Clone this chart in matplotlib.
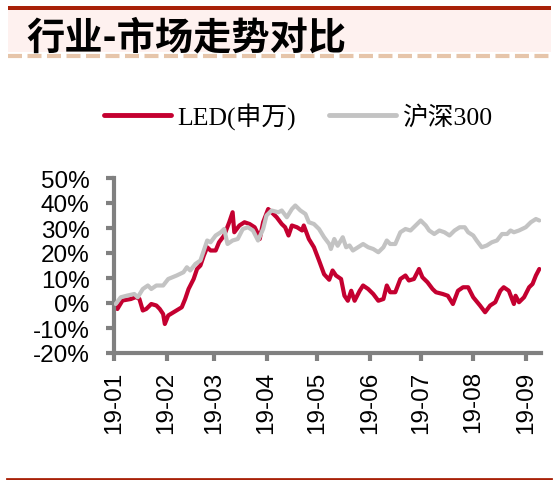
import matplotlib
matplotlib.use("Agg")
import matplotlib.pyplot as plt
import matplotlib.dates as mdates
from matplotlib.lines import Line2D
from matplotlib.patches import Rectangle
import pandas as pd

# ---------------- data ----------------
led_dates = ["2019-01-02", "2019-01-03", "2019-01-06", "2019-01-11", "2019-01-14", "2019-01-16",
             "2019-01-18", "2019-01-20", "2019-01-23", "2019-01-26", "2019-01-28", "2019-01-30",
             "2019-01-31", "2019-02-02", "2019-02-10", "2019-02-12", "2019-02-14", "2019-02-17",
             "2019-02-19", "2019-02-21", "2019-02-23", "2019-02-25", "2019-02-27", "2019-03-02",
             "2019-03-04", "2019-03-07", "2019-03-10", "2019-03-12", "2019-03-13", "2019-03-16",
             "2019-03-19", "2019-03-22", "2019-03-25", "2019-03-27", "2019-03-28", "2019-03-30",
             "2019-04-02", "2019-04-04", "2019-04-07", "2019-04-10", "2019-04-12", "2019-04-14",
             "2019-04-16", "2019-04-19", "2019-04-22", "2019-04-23", "2019-04-26", "2019-04-29",
             "2019-05-02", "2019-05-05", "2019-05-08", "2019-05-10", "2019-05-12", "2019-05-15",
             "2019-05-17", "2019-05-19", "2019-05-21", "2019-05-23", "2019-05-26", "2019-05-28",
             "2019-05-31", "2019-06-03", "2019-06-06", "2019-06-09", "2019-06-11", "2019-06-13",
             "2019-06-16", "2019-06-19", "2019-06-22", "2019-06-24", "2019-06-27", "2019-06-30",
             "2019-07-02", "2019-07-05", "2019-07-08", "2019-07-10", "2019-07-14", "2019-07-17",
             "2019-07-20", "2019-07-23", "2019-07-26", "2019-07-29", "2019-08-01", "2019-08-05",
             "2019-08-08", "2019-08-11", "2019-08-14", "2019-08-17", "2019-08-19", "2019-08-22",
             "2019-08-25", "2019-08-26", "2019-08-28", "2019-08-31", "2019-09-03", "2019-09-05",
             "2019-09-07", "2019-09-09"]
led_values = [-1.0, -2.4, 1.0, 1.6, 2.4, 1.6,
              -3.0, -2.4, -0.4, -1.0, -2.4, -4.4,
              -8.4, -5.0, -1.7, 1.6, 5.6, 9.6,
              13.6, 15.0, 19.0, 22.3, 21.0, 21.0,
              24.3, 27.0, 32.3, 36.3, 28.3, 31.0,
              32.3, 31.6, 30.3, 27.6, 25.6, 32.3,
              37.6, 36.3, 34.3, 31.6, 30.3, 27.0,
              31.0, 30.3, 29.0, 31.0, 25.6, 22.3,
              17.0, 11.5, 9.3, 13.0, 11.0, 9.6,
              2.9, 0.9, 4.9, 0.9, 4.9, 7.0,
              5.6, 3.6, 0.9, 1.6, 7.0, 4.3,
              4.3, 9.6, 11.0, 9.0, 9.6, 13.6,
              10.3, 8.3, 5.6, 4.3, 3.6, 2.9,
              -0.4, 4.9, 6.3, 6.3, 2.3, -1.0,
              -3.7, -1.0, 0.3, 4.9, 6.3, 4.9,
              -0.4, 2.9, 0.3, 2.3, 6.3, 7.6,
              11.0, 13.6]

hs300_dates = ["2019-01-02", "2019-01-05", "2019-01-09", "2019-01-13", "2019-01-15", "2019-01-18",
               "2019-01-21", "2019-01-23", "2019-01-26", "2019-01-30", "2019-02-02", "2019-02-07",
               "2019-02-11", "2019-02-13", "2019-02-15", "2019-02-18", "2019-02-21", "2019-02-25",
               "2019-02-27", "2019-03-02", "2019-03-05", "2019-03-07", "2019-03-09", "2019-03-12",
               "2019-03-15", "2019-03-18", "2019-03-21", "2019-03-24", "2019-03-27", "2019-03-30",
               "2019-04-01", "2019-04-04", "2019-04-08", "2019-04-10", "2019-04-13", "2019-04-16",
               "2019-04-18", "2019-04-21", "2019-04-24", "2019-04-26", "2019-04-29", "2019-05-02",
               "2019-05-05", "2019-05-08", "2019-05-09", "2019-05-11", "2019-05-13", "2019-05-16",
               "2019-05-18", "2019-05-20", "2019-05-22", "2019-05-25", "2019-05-28", "2019-05-31",
               "2019-06-03", "2019-06-06", "2019-06-09", "2019-06-11", "2019-06-13", "2019-06-16",
               "2019-06-19", "2019-06-22", "2019-06-25", "2019-06-28", "2019-07-01", "2019-07-04",
               "2019-07-06", "2019-07-09", "2019-07-12", "2019-07-15", "2019-07-18", "2019-07-21",
               "2019-07-24", "2019-07-27", "2019-07-29", "2019-08-01", "2019-08-03", "2019-08-06",
               "2019-08-09", "2019-08-12", "2019-08-15", "2019-08-18", "2019-08-21", "2019-08-23",
               "2019-08-25", "2019-08-28", "2019-09-01", "2019-09-04", "2019-09-07", "2019-09-09"]
hs300_values = [-0.4, 2.3, 3.0, 3.6, 2.3, 5.6,
                7.0, 5.6, 7.0, 7.0, 9.6, 11.0,
                12.3, 14.3, 13.0, 15.6, 17.0, 25.0,
                24.3, 27.0, 28.3, 29.6, 23.6, 25.0,
                25.6, 29.6, 30.3, 29.0, 25.0, 29.6,
                35.0, 37.0, 36.3, 37.0, 34.3, 37.6,
                39.0, 37.0, 35.6, 32.3, 31.6, 29.6,
                26.3, 23.6, 21.6, 25.6, 22.9, 26.3,
                22.3, 23.0, 21.0, 22.3, 23.6, 22.3,
                21.6, 20.3, 22.3, 25.0, 23.6, 23.6,
                28.3, 29.6, 29.0, 31.0, 33.0, 31.0,
                29.0, 27.6, 29.0, 28.3, 27.0, 29.0,
                30.3, 30.3, 28.3, 27.0, 25.0, 22.3,
                23.0, 24.3, 25.0, 27.6, 27.6, 29.0,
                28.3, 29.0, 30.3, 32.3, 33.6, 33.0]

series_names = ["LED(申万)", "沪深300"]
tick_months = ["2019-01-01", "2019-02-01", "2019-03-01", "2019-04-01", "2019-05-01",
               "2019-06-01", "2019-07-01", "2019-08-01", "2019-09-01"]
tick_labels = ["19-01", "19-02", "19-03", "19-04", "19-05", "19-06", "19-07", "19-08", "19-09"]
y_ticks = [-20, -10, 0, 10, 20, 30, 40, 50]
title_text = "行业-市场走势对比"

# ---------------- figure ----------------
W, H = 556, 481
fig = plt.figure(figsize=(W / 100, H / 100), dpi=100)


def fx(px):
    return px / W


def fy(py):
    return 1 - py / H


# header decoration
fig.add_artist(Rectangle((fx(8), fy(53)), fx(551) - fx(8), fy(11) - fy(53),
                         transform=fig.transFigure, facecolor="#FEF1EF", edgecolor="none", zorder=0))
fig.add_artist(Rectangle((fx(8), fy(11)), fx(551) - fx(8), fy(7) - fy(11),
                         transform=fig.transFigure, facecolor="#A82108", edgecolor="none", zorder=1))
fig.add_artist(Line2D([fx(8), fx(551)], [fy(57), fy(57)], transform=fig.transFigure,
                      color="#E6C5AA", lw=3.0, linestyle=(0, (14 / 3.0 / 1.389, 5.5 / 3.0 / 1.389))))
fig.add_artist(Line2D([fx(7), fx(551)], [fy(480), fy(480)], transform=fig.transFigure,
                      color="#A82108", lw=2.0))
fig.text(fx(26), fy(38), title_text, fontsize=27.5, family=["Noto Sans CJK SC"],
         weight="bold", va="center", ha="left", color="black")

# axes
ax = fig.add_axes([fx(114), fy(354), fx(541) - fx(114), fy(179) - fy(354)])
led_x = pd.to_datetime(led_dates)
hs_x = pd.to_datetime(hs300_dates)
red = "#C40030"
gray = "#C3C3C3"
l1, = ax.plot(led_x, led_values, color=red, lw=3.0, solid_joinstyle="round",
              solid_capstyle="round", label=series_names[0], zorder=2)
l2, = ax.plot(hs_x, hs300_values, color=gray, lw=3.0, solid_joinstyle="round",
              solid_capstyle="round", label=series_names[1], zorder=3)

ax.set_xlim(pd.Timestamp("2019-01-01"), pd.Timestamp("2019-09-10"))
ax.set_ylim(-20, 50)
ax.set_xticks(pd.to_datetime(tick_months))
ax.set_xticklabels(tick_labels, rotation=90, fontsize=17.5, family="Liberation Sans")
ax.set_yticks(y_ticks)
ax.set_yticklabels([f"{v}%" for v in y_ticks], fontsize=17.5, family="Liberation Sans")

for s in ["top", "right"]:
    ax.spines[s].set_visible(False)
for s in ["left", "bottom"]:
    ax.spines[s].set_color("#808080")
    ax.spines[s].set_linewidth(3.0)
    ax.spines[s].set_capstyle("projecting")
ax.tick_params(axis="both", direction="out", length=5.5, width=3.0, color="#808080")
ax.tick_params(axis="y", pad=12)
ax.tick_params(axis="x", pad=7)
ax.patch.set_alpha(0)

leg = ax.legend(handles=[l1, l2], loc="center", bbox_to_anchor=(fx(298), fy(117)),
                bbox_transform=fig.transFigure, ncol=2, frameon=False,
                prop={"family": ["Liberation Serif", "Noto Sans CJK SC"], "size": 18.5},
                handlelength=2.6, handletextpad=0.25, columnspacing=1.3, borderpad=0,
                borderaxespad=0)
for h in leg.legend_handles:
    h.set_linewidth(3.5)
    h.set_solid_capstyle("round")

fig.savefig("out.png", dpi=100)
